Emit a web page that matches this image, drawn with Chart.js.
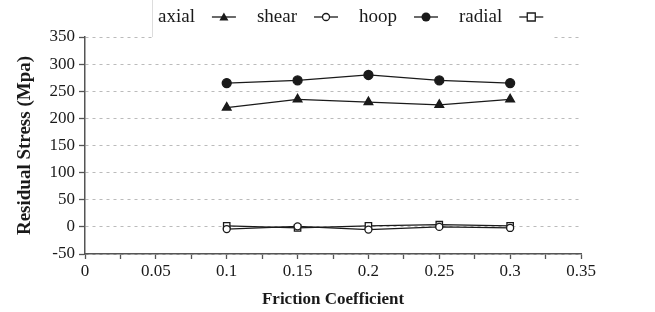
<!DOCTYPE html>
<html>
<head>
<meta charset="utf-8">
<script src="https://cdn.jsdelivr.net/npm/chart.js@4.4.1/dist/chart.umd.min.js"></script>
<style>
  html, body { margin: 0; padding: 0; background: #fff; }
  #wrap { width: 655px; height: 312px; }
</style>
</head>
<body>
<div id="wrap"><canvas id="stressChart" width="655" height="312"></canvas></div>
<script>
// Dados
const frictionCoeffs = [0.1, 0.15, 0.2, 0.25, 0.3];
const axialStress  = [220, 235, 230, 225, 235];
const shearStress  = [-4, 1, -5, 0, -2];
const hoopStress   = [265, 270, 280, 270, 265];
const radialStress = [2, -2, 2, 4, 2];

const seriesNames = ['axial', 'shear', 'hoop', 'radial'];
const yTicks = [-50, 0, 50, 100, 150, 200, 250, 300, 350];

const INK = '#1a1a1a';
Chart.defaults.font.family = '"Liberation Serif", "Times New Roman", serif';
Chart.defaults.color = INK;

function pts(values) {
  return frictionCoeffs.map((x, i) => ({ x: x, y: values[i] }));
}

// desenha um marcador simples (usado na legenda)
function marker(ctx, style, x, y) {
  ctx.save();
  ctx.lineWidth = 1.3;
  ctx.strokeStyle = INK;
  ctx.fillStyle = INK;
  ctx.beginPath();
  if (style === 'triangle') {
    ctx.moveTo(x, y - 4.5);
    ctx.lineTo(x + 4.5, y + 3.5);
    ctx.lineTo(x - 4.5, y + 3.5);
    ctx.closePath();
    ctx.fill();
  } else if (style === 'openCircle') {
    ctx.fillStyle = '#fff';
    ctx.arc(x, y, 3.5, 0, Math.PI * 2);
    ctx.fill(); ctx.stroke();
  } else if (style === 'circle') {
    ctx.arc(x, y, 4.5, 0, Math.PI * 2);
    ctx.fill();
  } else {
    ctx.fillStyle = '#fff';
    ctx.rect(x - 4, y - 4, 8, 8);
    ctx.fill(); ctx.stroke();
  }
  ctx.restore();
}

// Legenda no topo: texto primeiro, depois o símbolo
const topLegend = {
  id: 'topLegend',
  afterDraw(chart) {
    const ctx = chart.ctx;
    const styles = ['triangle', 'openCircle', 'circle', 'rect'];
    ctx.save();
    ctx.fillStyle = '#fff';
    ctx.fillRect(152, 0, 400, 38);
    ctx.strokeStyle = '#ddd';
    ctx.lineWidth = 1;
    ctx.beginPath();
    ctx.moveTo(152.5, 0);
    ctx.lineTo(152.5, 37);
    ctx.stroke();

    ctx.font = '19px "Liberation Serif", serif';
    ctx.textBaseline = 'middle';
    ctx.fillStyle = INK;
    let x = 158;
    const y = 17;
    seriesNames.forEach((name, i) => {
      ctx.fillText(name, x, y);
      x += ctx.measureText(name).width + 17;
      ctx.strokeStyle = INK;
      ctx.lineWidth = 1.3;
      ctx.beginPath();
      ctx.moveTo(x, y);
      ctx.lineTo(x + 24, y);
      ctx.stroke();
      marker(ctx, styles[i], x + 12, y);
      x += 24 + 21;
    });
    ctx.restore();
  }
};

const baseSet = {
  borderColor: INK,
  borderWidth: 1.3,
  pointBorderColor: INK,
  pointBorderWidth: 1.3,
  tension: 0,
  fill: false
};

const ctx = document.getElementById('stressChart').getContext('2d');
const stressChart = new Chart(ctx, {
  type: 'line',
  data: {
    datasets: [
      Object.assign({}, baseSet, { label: 'axial', data: pts(axialStress), pointStyle: 'triangle', pointRadius: 5, pointBackgroundColor: INK }),
      Object.assign({}, baseSet, { label: 'shear', data: pts(shearStress), pointStyle: 'circle', pointRadius: 3.5, pointBackgroundColor: '#fff' }),
      Object.assign({}, baseSet, { label: 'hoop', data: pts(hoopStress), pointStyle: 'circle', pointRadius: 4.5, pointBackgroundColor: INK }),
      Object.assign({}, baseSet, { label: 'radial', data: pts(radialStress), pointStyle: 'rect', pointRadius: 4.5, pointBackgroundColor: '#fff' })
    ]
  },
  options: {
    responsive: false,
    animation: false,
    devicePixelRatio: 1,
    layout: { padding: { top: 37, right: 74, left: 0, bottom: 0 } },
    plugins: {
      legend: { display: false },
      tooltip: { enabled: false }
    },
    scales: {
      x: {
        type: 'linear',
        min: 0,
        max: 0.35,
        afterFit(scale) { scale.height = 58; },
        ticks: {
          stepSize: 0.025,
          autoSkip: false,
          maxRotation: 0,
          padding: 2,
          font: { size: 17 },
          callback(v) {
            const k = Math.round(v * 1000);
            return k % 50 === 0 ? String(k / 1000) : '';
          }
        },
        grid: {
          drawOnChartArea: false,
          drawTicks: true,
          tickLength: 5,
          tickColor: '#555',
          tickWidth: 1.3
        },
        border: { display: true, color: '#555', width: 1.5 },
        title: {
          display: true,
          text: 'Friction Coefficient',
          font: { size: 17, weight: 'bold' },
          padding: { top: 0, bottom: 2 }
        }
      },
      y: {
        min: -50,
        max: 350,
        afterFit(scale) { scale.width = 85; },
        afterBuildTicks(scale) { scale.ticks = yTicks.map(v => ({ value: v })); },
        ticks: {
          padding: 4,
          font: { size: 17 }
        },
        grid: {
          color: '#bbb',
          lineWidth: 1,
          drawTicks: true,
          tickLength: 6,
          tickColor: '#555',
          tickWidth: 1.3,
          tickBorderDash: []
        },
        border: { display: true, color: '#555', width: 1.5, dash: [3, 4] },
        title: {
          display: true,
          text: 'Residual Stress (Mpa)',
          font: { size: 19, weight: 'bold' },
          padding: { top: 14, bottom: 0 }
        }
      }
    }
  },
  plugins: [topLegend]
});
</script>
</body>
</html>
